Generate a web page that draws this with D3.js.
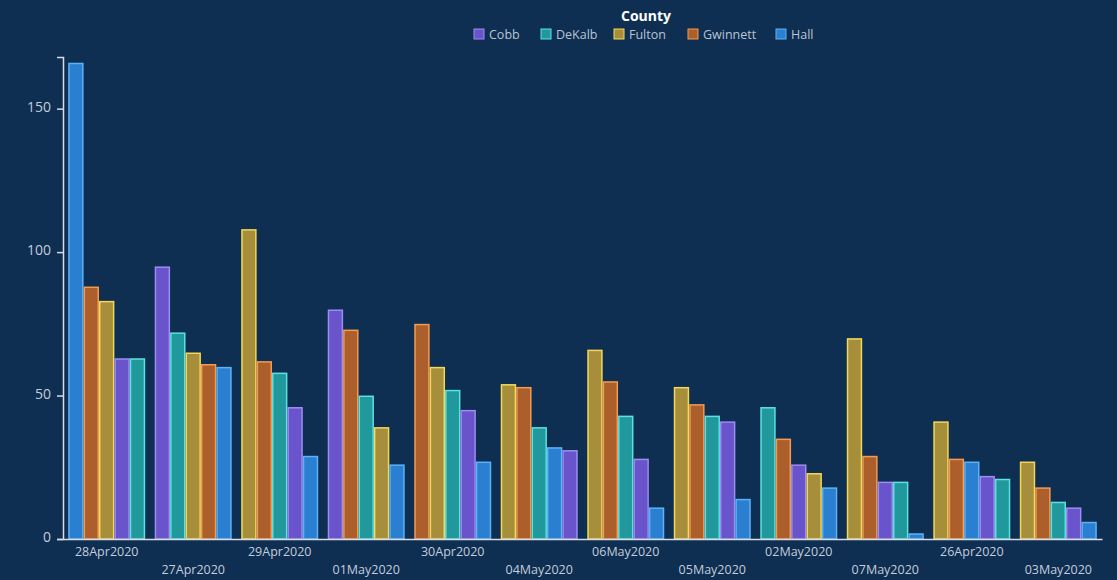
<!DOCTYPE html>
<html>
<head>
<meta charset="utf-8">
<script src="https://cdn.jsdelivr.net/npm/d3@7"></script>
<style>
    body { margin: 0; background: #0e2e52; }
    svg { display: block; }
    .tick text { fill: #c3cddb; font-family: "Open Sans", sans-serif; }
</style>
</head>
<body>
<div id="chart"></div>
<script>
// data
var dates = ["28Apr2020", "27Apr2020", "29Apr2020", "01May2020", "30Apr2020", "04May2020",
    "06May2020", "05May2020", "02May2020", "07May2020", "26Apr2020", "03May2020"];
var counties = ["Cobb", "DeKalb", "Fulton", "Gwinnett", "Hall"];

var cobb     = [63, 95, 46, 80, 45, 31, 28, 41, 26, 20, 22, 11];
var dekalb   = [63, 72, 58, 50, 52, 39, 43, 43, 46, 20, 21, 13];
var fulton   = [83, 65, 108, 39, 60, 54, 66, 53, 23, 70, 41, 27];
var gwinnett = [88, 61, 62, 73, 75, 53, 55, 47, 35, 29, 28, 18];
var hall     = [166, 60, 29, 26, 27, 32, 11, 14, 18, 2, 27, 6];

var yTicks = [0, 50, 100, 150];

var fills   = ["#6a54cc", "#21999c", "#a68e3a", "#ad5f2b", "#2a7fd0"];
var strokes = ["#9b8df2", "#5fe0e0", "#f2d95a", "#f29c52", "#5cb2f5"];

var seriesValues = [cobb, dekalb, fulton, gwinnett, hall];

var svgWidth = 1117;
var svgHeight = 580;

var svg = d3.select("#chart")
    .append("svg")
    .attr("width", svgWidth)
    .attr("height", svgHeight);

var x0 = d3.scaleBand()
    .domain(dates)
    .range([63, 1102])
    .paddingInner(0.11)
    .paddingOuter(0.06);

var x1 = d3.scaleBand()
    .domain(d3.range(counties.length))
    .range([0, x0.bandwidth()]);

var y = d3.scaleLinear()
    .domain([0, 168])
    .range([539, 57]);

var color = d3.scaleOrdinal().domain(counties).range(fills);
var edge = d3.scaleOrdinal().domain(counties).range(strokes);

// build groups, bars sorted by value within each date
var groups = dates.map(function(date, i) {
    var bars = counties.map(function(c, j) {
        return { county: c, value: seriesValues[j][i] };
    });
    bars.sort(function(a, b) { return b.value - a.value || d3.ascending(a.county, b.county); });
    return { date: date, bars: bars };
});

var groupSel = svg.append("g")
    .selectAll("g")
    .data(groups)
    .enter()
    .append("g")
    .attr("transform", d => `translate(${x0(d.date)},0)`);

groupSel.selectAll("rect")
    .data(d => d.bars)
    .enter()
    .append("rect")
    .attr("x", (d, i) => x1(i) + 0.75)
    .attr("y", d => y(d.value) + 0.75)
    .attr("width", x1.bandwidth() - 1.5)
    .attr("height", d => Math.max(0, y(0) - y(d.value) - 0.75))
    .attr("fill", d => color(d.county))
    .attr("stroke", d => edge(d.county))
    .attr("stroke-width", 1.5);

// y axis
var yAxis = svg.append("g")
    .attr("transform", "translate(63,0)")
    .call(d3.axisLeft(y).tickValues(yTicks).tickSize(6).tickPadding(6));
yAxis.select(".domain").attr("stroke", "#d6dde8").attr("stroke-width", 1.5);
yAxis.selectAll(".tick line").attr("stroke", "#d6dde8").attr("stroke-width", 1.5);
yAxis.selectAll(".tick text").attr("font-size", "14px").attr("dy", "0.2em");

// x axis, labels staggered on two rows
var xAxis = svg.append("g")
    .attr("transform", "translate(0,539)")
    .call(d3.axisBottom(x0).tickSize(0).tickPadding(6).tickSizeOuter(0));
xAxis.select(".domain").attr("stroke", "#d6dde8").attr("stroke-width", 1.5);
xAxis.selectAll(".tick text")
    .attr("font-size", "12.5px")
    .attr("y", (d, i) => i % 2 === 0 ? 8 : 26);

// legend
var legend = svg.append("g");
legend.append("text")
    .attr("x", 646)
    .attr("y", 21)
    .attr("text-anchor", "middle")
    .attr("fill", "#ffffff")
    .attr("font-family", "'Open Sans', sans-serif")
    .attr("font-weight", "bold")
    .attr("font-size", "14px")
    .text("County");

var legendX = [474, 541, 614, 688, 776];
var item = legend.selectAll("g.item")
    .data(counties)
    .enter()
    .append("g")
    .attr("class", "item")
    .attr("transform", (d, i) => `translate(${legendX[i]},29)`);

item.append("rect")
    .attr("width", 10)
    .attr("height", 10)
    .attr("fill", d => color(d))
    .attr("stroke", d => edge(d))
    .attr("stroke-width", 1);

item.append("text")
    .attr("x", 15)
    .attr("y", 9.5)
    .attr("fill", "#b9c4d3")
    .attr("font-family", "'Open Sans', sans-serif")
    .attr("font-size", "12.5px")
    .text(d => d);
</script>
</body>
</html>
